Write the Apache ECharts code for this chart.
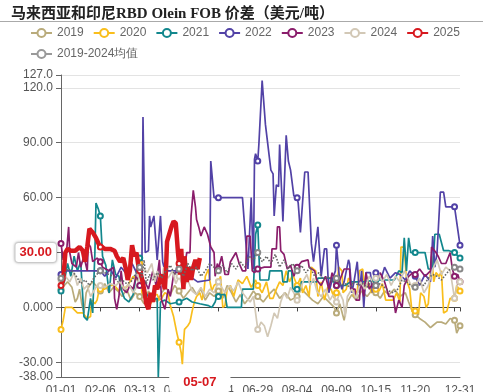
<!DOCTYPE html>
<html><head><meta charset="utf-8">
<script src="https://cdn.jsdelivr.net/npm/echarts@6/dist/echarts.min.js"></script>
<style>html,body{margin:0;padding:0;background:#fff}#c{width:483px;height:392px}</style>
</head><body><div id="c"></div>
<script>
// categories: MM-DD for a leap year
const monthDays = [31,29,31,30,31,30,31,31,30,31,30,31];
const categories = [];
for (let m = 0; m < 12; m++) for (let d = 1; d <= monthDays[m]; d++)
  categories.push(String(m + 1).padStart(2, '0') + '-' + String(d).padStart(2, '0'));

const seriesNames = ['2019','2020','2021','2022','2023','2024','2025','2019-2024均值'];

// [dayIndex, value]
const s2019 = [[0,10],[3,12],[6,14],[10,11],[13,3],[15,5],[17,10],[19,2],[21,-3],[23,8],[26,12],[29,14],[32,12],[36,9],[40,13],[44,8],[48,11],[52,9],[56,6],[60,10],[64,4],[68,8],[72,6],[76,2],[80,9],[84,5],[88,3],[92,8],[96,11],[100,7],[104,12],[108,9],[112,5],[116,8],[120,11],[124,7],[128,10],[132,4],[136,8],[140,6],[144,9],[148,5],[152,12],[156,8],[160,3],[164,7],[168,2],[172,5],[176,9],[180,6],[185,3],[190,7],[195,10],[200,5],[205,8],[210,4],[216,6],[220,10],[225,7],[230,4],[235,2],[240,6],[245,3],[250,0],[252,-3],[255,2],[259,-7],[262,3],[266,7],[270,4],[275,9],[280,6],[285,10],[288,8],[292,5],[296,9],[300,7],[305,10],[310,6],[315,8],[318,3],[322,-3],[324,-4],[328,-6],[333,-8],[338,-11],[340,-10],[344,-8],[348,-8],[352,-9],[356,-6],[360,-7],[362,-14],[365,-10]];

const s2020 = [[0,-12],[2,-7],[4,0],[10,0],[15,-3],[20,-3],[24,-6],[27,-5],[28,4],[31,2],[33,4],[35,10],[36,10],[40,10],[44,12],[49,12],[53,9],[56,11],[60,11],[64,15],[66,17],[70,15],[72,24],[74,8],[78,4],[82,2],[85,7],[88,7],[90,4],[92,5],[95,8],[98,7],[100,1],[103,-5],[106,-14],[108,-19],[110,-25],[111,-31],[112,-20],[113,-12],[116,-10],[118,-8],[120,-2],[122,3],[124,6],[127,8],[129,4],[131,10],[132,17],[135,21],[136,15],[138,9],[140,12],[144,14],[146,17],[148,0],[150,1],[152,10],[155,12],[158,6],[162,15],[166,13],[170,17],[174,11],[178,15],[180,12],[184,8],[188,14],[191,5],[194,5],[197,10],[200,14],[203,12],[206,20],[209,14],[212,18],[216,12],[219,16],[221,8],[224,12],[227,6],[229,22],[233,20],[235,6],[238,14],[241,4],[244,11],[247,10],[250,5],[252,8],[254,22],[257,20],[258,8],[261,10],[263,16],[266,14],[268,6],[271,9],[273,20],[276,21],[278,10],[281,14],[284,8],[288,10],[291,9],[294,13],[297,4],[304,4],[307,8],[310,3],[311,33],[314,33],[316,15],[319,10],[321,-2],[324,-2],[327,-4],[329,8],[332,6],[334,0],[336,2],[339,28],[341,14],[343,19],[346,17],[348,20],[350,-3],[353,-2],[356,5],[360,5],[362,12],[365,9]];

const s2021 = [[0,9],[3,14],[6,24],[9,17],[12,28],[15,20],[18,25],[21,-5],[24,-7],[27,5],[29,-3],[31,30],[32,57],[34,54],[36,50],[38,28],[41,23],[44,8],[47,26],[50,18],[53,17],[55,10],[58,5],[62,3],[66,7],[70,22],[72,27],[75,10],[80,6],[84,4],[88,5],[89,-38],[90,-20],[91,3],[95,4],[100,2],[108,3],[115,5],[120,3],[127,2],[135,1],[138,0],[141,3],[143,7],[144,6],[150,7],[152,0],[165,0],[166,10],[176,10],[178,40],[180,45],[182,15],[190,15],[191,20],[202,20],[203,14],[207,14],[208,20],[211,20],[212,10],[216,10],[219,10],[220,14],[234,14],[235,16],[247,16],[252,12],[260,12],[265,14],[276,14],[277,15],[288,15],[305,15],[309,20],[312,19],[314,38],[316,20],[318,38],[320,30],[324,30],[333,30],[336,21],[340,21],[342,40],[346,40],[350,31],[355,31],[360,30],[365,27]];

const s2022 = [[0,18],[4,20],[33,20],[36,20],[40,17],[45,21],[50,16],[55,22],[59,19],[65,24],[70,18],[72,19],[74,20],[75,104],[77,30],[80,31],[81,50],[82,44],[85,50],[88,26],[91,50],[93,25],[95,20],[108,20],[118,17],[125,14],[136,15],[137,80],[140,60],[143,60],[144,60],[166,60],[168,44],[171,21],[174,60],[176,21],[177,81],[178,84],[180,80],[181,89],[184,124],[185,125],[187,100],[189,90],[192,75],[194,73],[195,50],[197,67],[199,66],[200,89],[203,47],[206,94],[208,80],[210,75],[213,61],[216,60],[217,57],[219,41],[223,74],[226,74],[229,35],[231,25],[235,44],[238,17],[241,32],[243,32],[245,8],[248,15],[251,20],[252,34],[253,34],[255,14],[257,10],[259,14],[263,26],[264,24],[266,8],[268,14],[271,25],[273,8],[275,20],[277,0],[279,19],[283,19],[285,8],[287,19],[288,19],[290,16],[293,16],[296,22],[301,16],[306,19],[310,18],[315,15],[319,20],[324,17],[328,12],[333,18],[338,14],[340,39],[342,22],[344,30],[347,63],[350,63],[352,55],[360,55],[365,34]];

const s2023 = [[0,35],[2,26],[5,30],[7,44],[8,30],[10,24],[14,22],[16,30],[18,22],[21,28],[24,20],[25,35],[27,33],[29,25],[33,27],[36,25],[38,22],[44,20],[48,22],[49,5],[51,-1],[53,6],[55,20],[57,10],[60,8],[63,12],[66,10],[69,18],[72,12],[76,15],[80,10],[84,20],[87,12],[90,26],[92,4],[95,-1],[98,10],[100,6],[103,18],[108,21],[112,16],[115,30],[118,30],[119,50],[121,64],[123,55],[124,48],[126,44],[128,39],[131,44],[134,40],[137,33],[140,30],[141,17],[143,24],[144,21],[147,28],[150,18],[153,18],[155,25],[160,30],[163,24],[166,20],[169,20],[170,39],[173,39],[175,20],[177,19],[180,21],[186,22],[192,22],[193,32],[197,32],[198,44],[200,44],[201,31],[204,29],[207,21],[210,23],[213,17],[216,22],[220,25],[221,26],[226,26],[227,22],[232,20],[234,15],[238,12],[242,17],[245,10],[248,19],[252,12],[255,15],[259,21],[264,21],[265,10],[269,10],[270,4],[273,4],[274,15],[277,6],[279,19],[282,10],[286,14],[288,12],[292,19],[296,14],[300,6],[304,6],[306,-3],[309,4],[312,0],[314,12],[318,17],[322,19],[324,18],[328,21],[333,17],[338,20],[339,33],[343,30],[345,28],[348,24],[352,24],[356,30],[358,21],[360,17],[363,18],[365,14]];

const s2024 = [[0,15],[4,17],[8,14],[12,19],[15,12],[18,16],[21,10],[24,12],[27,6],[30,9],[33,12],[36,12],[40,11],[45,13],[50,12],[54,14],[58,10],[62,13],[66,8],[70,12],[72,18],[75,22],[79,19],[83,24],[86,14],[88,20],[91,12],[94,22],[98,16],[102,20],[105,13],[108,17],[112,11],[116,15],[120,9],[124,7],[128,11],[132,6],[136,10],[140,8],[144,14],[147,11],[150,8],[154,12],[158,9],[162,14],[166,8],[170,5],[173,3],[176,6],[178,-3],[180,-12],[183,-8],[186,-10],[189,-16],[192,-10],[195,-3],[198,-6],[201,3],[204,8],[207,5],[210,11],[213,8],[216,4],[219,10],[222,15],[225,18],[228,12],[231,16],[234,9],[238,6],[242,10],[246,4],[249,7],[252,3],[255,8],[258,4],[260,-5],[262,6],[266,10],[270,5],[274,14],[278,10],[282,17],[286,13],[288,16],[290,19],[294,14],[298,18],[302,12],[306,17],[310,14],[314,20],[318,15],[322,10],[324,12],[328,16],[332,8],[336,12],[340,21],[344,26],[348,18],[352,22],[356,20],[360,5],[363,14],[365,14]];

const s2025 = [[0,12],[2,15],[4,30],[6,32],[9,31],[13,31],[17,33],[20,31],[22,25],[24,33],[26,43],[29,41],[32,38],[35,34],[36,33],[40,32],[45,32],[49,31],[51,28],[54,25],[57,27],[59,22],[61,15],[63,20],[65,34],[67,28],[69,30],[71,22],[72,20],[74,16],[76,10],[78,2],[80,-1],[82,8],[84,3],[86,12],[88,10],[90,14],[92,18],[95,10],[96,20],[97,36],[99,40],[101,44],[103,47],[105,46],[107,30],[108,24],[109,18],[110,32],[112,10],[113,28],[115,14],[117,22],[119,15],[121,22],[123,26],[125,21],[127,27]];

const sAvg = [[0,16],[3,18],[6,21],[10,20],[14,17],[18,13],[22,15],[26,12],[30,16],[34,19],[36,20],[40,19],[44,18],[48,17],[52,14],[56,15],[60,13],[64,14],[68,18],[72,22],[74,16],[76,26],[78,13],[81,18],[84,15],[88,19],[92,16],[96,20],[100,23],[104,18],[108,21],[112,17],[116,24],[120,20],[124,22],[128,17],[132,20],[136,24],[140,22],[144,20],[148,23],[152,19],[156,24],[160,21],[164,25],[168,22],[172,28],[176,26],[180,30],[184,25],[188,28],[192,24],[196,29],[200,22],[204,26],[208,21],[212,24],[216,20],[220,23],[224,19],[228,22],[232,17],[236,19],[240,15],[244,17],[248,14],[252,16],[256,12],[260,13],[264,11],[268,14],[272,12],[276,13],[280,11],[284,14],[288,12],[292,13],[296,11],[300,9],[304,8],[308,10],[312,15],[316,14],[320,12],[324,11],[328,13],[332,12],[336,16],[340,18],[344,17],[348,15],[352,18],[356,21],[360,22],[365,21]];

const colors = ['#b9ab7b','#f9be1c','#12878d','#5242a6','#8a1d6b','#d2c8b6','#d7191f','#8c8c8c'];
const seriesData = [s2019, s2020, s2021, s2022, s2023, s2024, s2025, sAvg];

const labelShow = (i) => i % 36 === 0 || i === categories.length - 1;
const red = '#d7191f';

const chart = echarts.init(document.getElementById('c'));
chart.setOption({
  animation: false,
  color: colors,
  title: {
    text: '马来西亚和印尼RBD Olein FOB 价差（美元/吨）',
    left: 6, top: 2,
    textStyle: { fontSize: 15, fontWeight: 'bold', color: '#222', fontFamily: '"Liberation Serif","Noto Sans CJK SC",serif' }
  },
  graphic: [{ type: 'line', shape: { x1: 0, y1: 21.5, x2: 483, y2: 21.5 }, style: { stroke: '#aaa', lineWidth: 1 }, silent: true }],
  legend: {
    left: 25, top: 22, right: 10,
    itemWidth: 21, itemHeight: 10, itemGap: 9,
    textStyle: { fontSize: 12, color: '#666', fontFamily: '"Liberation Sans",sans-serif' },
    data: seriesNames.map((n, i) => i === 7 ? { name: n, itemStyle: { color: '#999' }, lineStyle: { type: 'solid', color: '#999' } } : n)
  },
  grid: { left: 61, right: 23, top: 75, bottom: 15, outerBoundsMode: 'none', containLabel: false },
  xAxis: [{
    type: 'category', data: categories, boundaryGap: false, position: 'bottom',
    axisLine: { onZero: false, lineStyle: { color: '#666' } },
    axisTick: { show: false },
    axisLabel: {
      interval: labelShow, color: '#555', fontSize: 12, fontFamily: '"Liberation Sans",sans-serif',
      formatter: (v, i) => (i === 360 ? '' : v)
    },
    splitLine: { show: false },
    axisPointer: {
      show: true, status: 'show', value: 127, type: 'line', triggerTooltip: false,
      lineStyle: { opacity: 0 },
      label: { show: true, color: red, fontWeight: 'bold', fontSize: 13, backgroundColor: '#fff', padding: [3, 14, 3, 14], margin: 7, fontFamily: '"Liberation Sans",sans-serif' }
    }
  }, {
    type: 'category', data: categories, boundaryGap: false, position: 'bottom',
    axisLine: { onZero: true, lineStyle: { color: '#444' } },
    axisTick: { show: true, interval: labelShow, length: 4, lineStyle: { color: '#444' } },
    axisLabel: { show: false },
    splitLine: { show: false }
  }],
  yAxis: {
    type: 'value', min: -38, max: 127,
    axisLine: { show: true, lineStyle: { color: '#666' } },
    axisTick: { show: true, length: 5 },
    axisLabel: { color: '#555', fontSize: 12, formatter: v => Number(v).toPrecision(4), fontFamily: '"Liberation Sans",sans-serif' },
    splitLine: { show: true, lineStyle: { color: '#e3e3e3' } },
    axisPointer: {
      show: true, status: 'show', value: 30, type: 'line', triggerTooltip: false,
      lineStyle: { opacity: 0 },
      label: {
        show: true, color: red, fontWeight: 'bold', fontSize: 13, backgroundColor: '#fff',
        borderColor: '#ddd', borderWidth: 1, shadowBlur: 3, shadowColor: 'rgba(0,0,0,0.25)',
        padding: [3, 4], margin: 5, fontFamily: '"Liberation Sans",sans-serif',
        formatter: p => Number(p.value).toFixed(2)
      }
    }
  },
  series: seriesNames.map((n, i) => ({
    name: n, type: 'line', data: seriesData[i],
    xAxisIndex: 0, yAxisIndex: 0,
    symbol: 'emptyCircle', symbolSize: 5,
    z: i === 6 ? 4 : (i === 7 ? 5 : 2),
    lineStyle: i === 6 ? { width: 4.5 } : (i === 7 ? { width: 1.6, type: 'dotted', color: '#666' } : { width: 1.7 }),
    itemStyle: i === 7 ? { color: '#888' } : undefined,
    emphasis: { disabled: true }
  }))
});
</script></body></html>
